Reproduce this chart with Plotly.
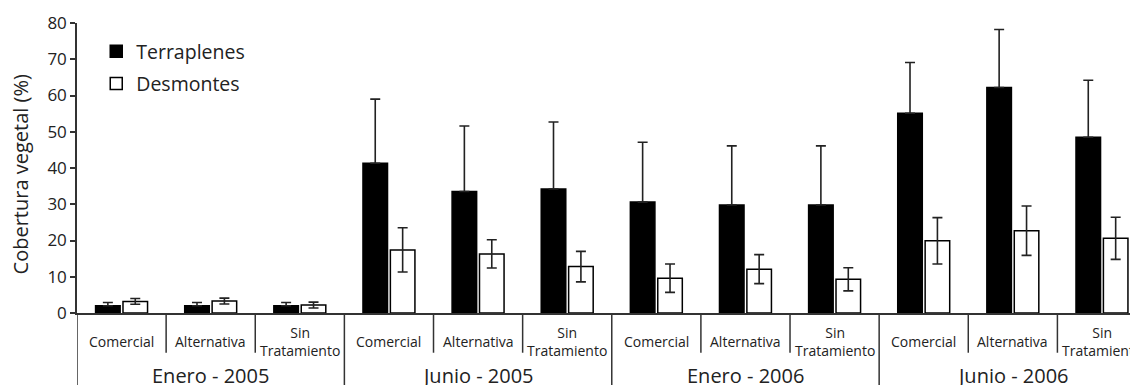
import plotly.graph_objects as go

# ---- data ----
periodos = ["Enero - 2005", "Junio - 2005", "Enero - 2006", "Junio - 2006"]
tratamientos = ["Comercial", "Alternativa", "Sin<br>Tratamiento"]
terraplenes = [2.0, 2.0, 2.0, 41.3, 33.5, 34.2, 30.6, 29.8, 29.8, 55.1, 62.2, 48.5]
terraplenes_err = [0.9, 0.9, 0.9, 17.7, 18.1, 18.5, 16.5, 16.3, 16.3, 14.0, 16.0, 15.7]
desmontes = [3.2, 3.3, 2.2, 17.4, 16.3, 12.8, 9.6, 12.1, 9.3, 19.9, 22.7, 20.6]
desmontes_err = [0.8, 0.8, 0.8, 6.1, 3.9, 4.2, 3.9, 4.0, 3.2, 6.4, 6.8, 5.8]
y_ticks = [0, 10, 20, 30, 40, 50, 60, 70, 80]
y_title = "Cobertura vegetal (%)"

FONT = "Open Sans"
INK = "#222222"
LINE = "#333333"

n = len(periodos) * len(tratamientos)
xs = list(range(n))

fig = go.Figure()
fig.add_trace(go.Bar(
    x=xs, y=terraplenes, name="Terraplenes",
    marker=dict(color="black", line=dict(color="black", width=1.5)),
    error_y=dict(type="data", array=terraplenes_err,
                 arrayminus=[0] * len(terraplenes_err), symmetric=False,
                 color=INK, thickness=1.6, width=5),
    legendgroup="a",
))
fig.add_trace(go.Bar(
    x=xs, y=desmontes, name="Desmontes",
    marker=dict(color="white", line=dict(color="black", width=1.5)),
    error_y=dict(type="data", array=desmontes_err, symmetric=True,
                 color=INK, thickness=1.6, width=5),
    legendgroup="b",
))

# separators and labels below the axis
shapes = []
annotations = []
for b in range(n + 1):
    long_line = (b % len(tratamientos) == 0)
    shapes.append(dict(type="line", xref="x", yref="paper",
                       x0=b - 0.5, x1=b - 0.5, y0=0,
                       y1=-0.30 if long_line else -0.137,
                       line=dict(color=LINE, width=1.5)))
for i, x in enumerate(xs):
    annotations.append(dict(xref="x", yref="paper", x=x, y=-0.098,
                            text=tratamientos[i % len(tratamientos)],
                            showarrow=False, xanchor="center", yanchor="middle",
                            font=dict(family=FONT, size=14, color=INK)))
for g, p in enumerate(periodos):
    annotations.append(dict(xref="x", yref="paper", x=g * len(tratamientos) + 1,
                            y=-0.216, text=p, showarrow=False,
                            xanchor="center", yanchor="middle",
                            font=dict(family=FONT, size=20, color=INK)))
# y-axis title
annotations.append(dict(xref="paper", yref="paper", x=-0.0533, y=0.478,
                        text=y_title, textangle=-90, showarrow=False,
                        xanchor="center", yanchor="middle",
                        font=dict(family=FONT, size=20, color=INK)))

fig.update_layout(
    width=1138, height=385,
    margin=dict(l=69, r=0, t=15, b=80),
    paper_bgcolor="white", plot_bgcolor="white",
    barmode="group", bargap=0.385, bargroupgap=0.104,
    font=dict(family=FONT, color=INK),
    showlegend=True,
    legend=dict(x=0.018, y=0.969, xanchor="left", yanchor="top",
                font=dict(family=FONT, size=19.5, color=INK),
                bgcolor="rgba(0,0,0,0)", traceorder="grouped",
                tracegroupgap=4),
    shapes=shapes,
    annotations=annotations,
)
fig.update_xaxes(range=[-0.5, 11.494], showticklabels=False, ticks="",
                 showgrid=False, zeroline=False, showline=True,
                 linecolor=LINE, linewidth=1.5)
fig.update_yaxes(range=[0, 80], tickvals=y_ticks, ticks="outside", ticklen=5,
                 tickwidth=1.5, tickcolor=LINE, showgrid=False, zeroline=False,
                 showline=True, linecolor=LINE, linewidth=1.5,
                 tickfont=dict(family=FONT, size=17, color=INK))

fig.write_html("out.html")
